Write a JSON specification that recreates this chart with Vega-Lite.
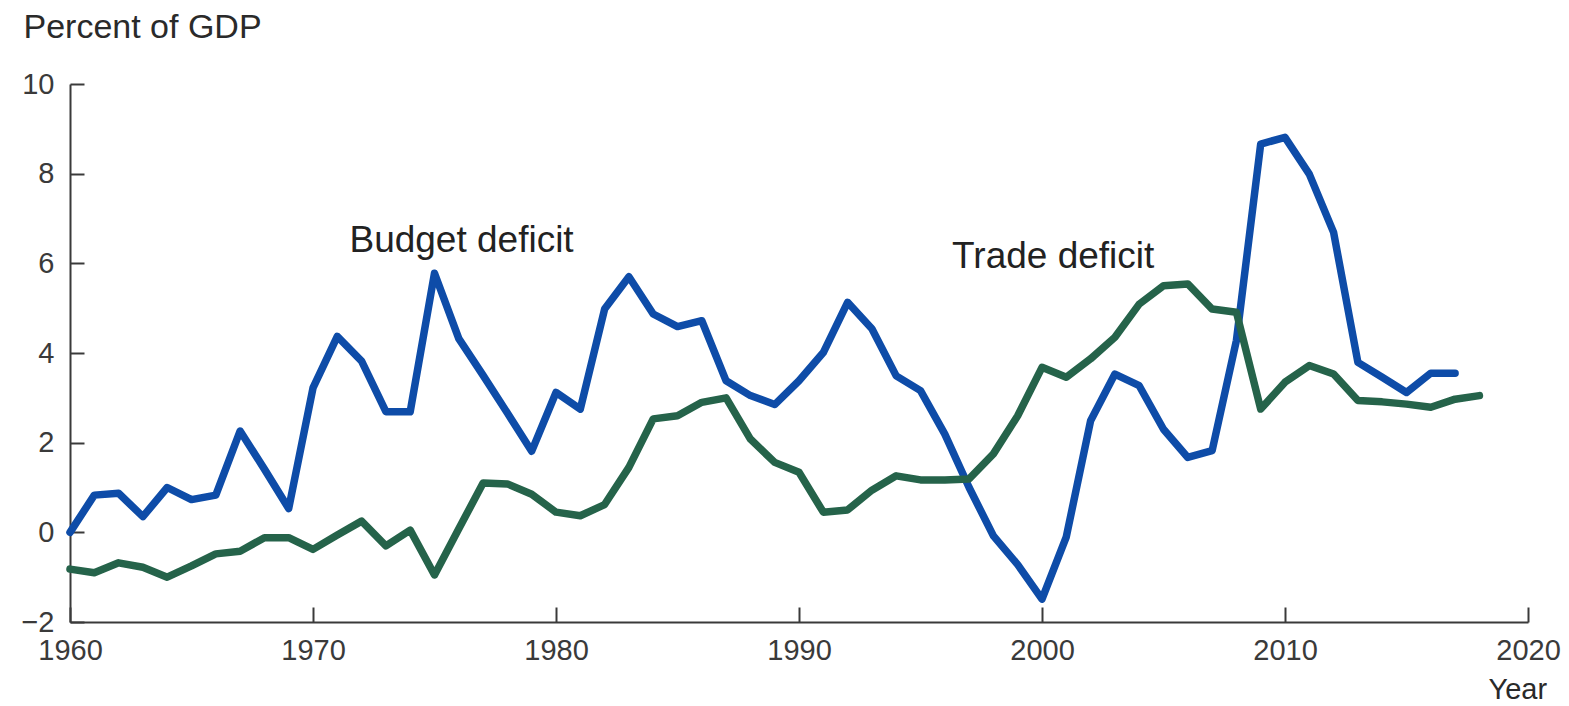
{
  "$schema": "https://vega.github.io/schema/vega-lite/v6.json",
  "autosize": "none",
  "width": 1458,
  "height": 538,
  "padding": {"left": 70, "top": 84, "right": 41, "bottom": 84},
  "background": "white",
  "config": {
    "font": "Liberation Sans",
    "view": {"stroke": null},
    "axis": {
      "domainColor": "#3a3a3a",
      "domainWidth": 2,
      "tickColor": "#3a3a3a",
      "tickWidth": 2,
      "labelColor": "#3a3a3a",
      "titleColor": "#2a2a2a",
      "grid": false,
      "labelFlush": false,
      "labelOverlap": false,
      "titleFontWeight": "normal",
      "labelFont": "Liberation Sans",
      "titleFont": "Liberation Sans"
    }
  },
  "datasets": {
    "series": [
      {"year": 1960, "series": "Budget deficit", "value": 0.0},
      {"year": 1961, "series": "Budget deficit", "value": 0.83},
      {"year": 1962, "series": "Budget deficit", "value": 0.87},
      {"year": 1963, "series": "Budget deficit", "value": 0.35},
      {"year": 1964, "series": "Budget deficit", "value": 1.0},
      {"year": 1965, "series": "Budget deficit", "value": 0.73},
      {"year": 1966, "series": "Budget deficit", "value": 0.83},
      {"year": 1967, "series": "Budget deficit", "value": 2.26},
      {"year": 1968, "series": "Budget deficit", "value": 1.41},
      {"year": 1969, "series": "Budget deficit", "value": 0.53},
      {"year": 1970, "series": "Budget deficit", "value": 3.22},
      {"year": 1971, "series": "Budget deficit", "value": 4.37},
      {"year": 1972, "series": "Budget deficit", "value": 3.82},
      {"year": 1973, "series": "Budget deficit", "value": 2.69},
      {"year": 1974, "series": "Budget deficit", "value": 2.69},
      {"year": 1975, "series": "Budget deficit", "value": 5.78},
      {"year": 1976, "series": "Budget deficit", "value": 4.32},
      {"year": 1977, "series": "Budget deficit", "value": 3.5},
      {"year": 1978, "series": "Budget deficit", "value": 2.66},
      {"year": 1979, "series": "Budget deficit", "value": 1.81},
      {"year": 1980, "series": "Budget deficit", "value": 3.12},
      {"year": 1981, "series": "Budget deficit", "value": 2.75},
      {"year": 1982, "series": "Budget deficit", "value": 4.98},
      {"year": 1983, "series": "Budget deficit", "value": 5.7},
      {"year": 1984, "series": "Budget deficit", "value": 4.87},
      {"year": 1985, "series": "Budget deficit", "value": 4.59},
      {"year": 1986, "series": "Budget deficit", "value": 4.72},
      {"year": 1987, "series": "Budget deficit", "value": 3.38},
      {"year": 1988, "series": "Budget deficit", "value": 3.05},
      {"year": 1989, "series": "Budget deficit", "value": 2.85},
      {"year": 1990, "series": "Budget deficit", "value": 3.38},
      {"year": 1991, "series": "Budget deficit", "value": 4.01},
      {"year": 1992, "series": "Budget deficit", "value": 5.13},
      {"year": 1993, "series": "Budget deficit", "value": 4.54},
      {"year": 1994, "series": "Budget deficit", "value": 3.49},
      {"year": 1995, "series": "Budget deficit", "value": 3.16},
      {"year": 1996, "series": "Budget deficit", "value": 2.19},
      {"year": 1997, "series": "Budget deficit", "value": 1.0},
      {"year": 1998, "series": "Budget deficit", "value": -0.08},
      {"year": 1999, "series": "Budget deficit", "value": -0.72},
      {"year": 2000, "series": "Budget deficit", "value": -1.49},
      {"year": 2001, "series": "Budget deficit", "value": -0.1},
      {"year": 2002, "series": "Budget deficit", "value": 2.49},
      {"year": 2003, "series": "Budget deficit", "value": 3.53},
      {"year": 2004, "series": "Budget deficit", "value": 3.27},
      {"year": 2005, "series": "Budget deficit", "value": 2.3},
      {"year": 2006, "series": "Budget deficit", "value": 1.67},
      {"year": 2007, "series": "Budget deficit", "value": 1.82},
      {"year": 2008, "series": "Budget deficit", "value": 4.28},
      {"year": 2009, "series": "Budget deficit", "value": 8.66},
      {"year": 2010, "series": "Budget deficit", "value": 8.81},
      {"year": 2011, "series": "Budget deficit", "value": 7.99},
      {"year": 2012, "series": "Budget deficit", "value": 6.69},
      {"year": 2013, "series": "Budget deficit", "value": 3.79},
      {"year": 2014, "series": "Budget deficit", "value": 3.46},
      {"year": 2015, "series": "Budget deficit", "value": 3.12},
      {"year": 2016, "series": "Budget deficit", "value": 3.55},
      {"year": 2017, "series": "Budget deficit", "value": 3.55},
      {"year": 1960, "series": "Trade deficit", "value": -0.82},
      {"year": 1961, "series": "Trade deficit", "value": -0.9},
      {"year": 1962, "series": "Trade deficit", "value": -0.68},
      {"year": 1963, "series": "Trade deficit", "value": -0.78},
      {"year": 1964, "series": "Trade deficit", "value": -1.0},
      {"year": 1965, "series": "Trade deficit", "value": -0.75},
      {"year": 1966, "series": "Trade deficit", "value": -0.48},
      {"year": 1967, "series": "Trade deficit", "value": -0.42},
      {"year": 1968, "series": "Trade deficit", "value": -0.12},
      {"year": 1969, "series": "Trade deficit", "value": -0.12},
      {"year": 1970, "series": "Trade deficit", "value": -0.38},
      {"year": 1971, "series": "Trade deficit", "value": -0.06},
      {"year": 1972, "series": "Trade deficit", "value": 0.25},
      {"year": 1973, "series": "Trade deficit", "value": -0.3},
      {"year": 1974, "series": "Trade deficit", "value": 0.05},
      {"year": 1975, "series": "Trade deficit", "value": -0.95},
      {"year": 1976, "series": "Trade deficit", "value": 0.08},
      {"year": 1977, "series": "Trade deficit", "value": 1.1},
      {"year": 1978, "series": "Trade deficit", "value": 1.08},
      {"year": 1979, "series": "Trade deficit", "value": 0.85},
      {"year": 1980, "series": "Trade deficit", "value": 0.45},
      {"year": 1981, "series": "Trade deficit", "value": 0.37},
      {"year": 1982, "series": "Trade deficit", "value": 0.62},
      {"year": 1983, "series": "Trade deficit", "value": 1.45},
      {"year": 1984, "series": "Trade deficit", "value": 2.53},
      {"year": 1985, "series": "Trade deficit", "value": 2.6},
      {"year": 1986, "series": "Trade deficit", "value": 2.9},
      {"year": 1987, "series": "Trade deficit", "value": 3.0},
      {"year": 1988, "series": "Trade deficit", "value": 2.08},
      {"year": 1989, "series": "Trade deficit", "value": 1.56},
      {"year": 1990, "series": "Trade deficit", "value": 1.34},
      {"year": 1991, "series": "Trade deficit", "value": 0.45},
      {"year": 1992, "series": "Trade deficit", "value": 0.5},
      {"year": 1993, "series": "Trade deficit", "value": 0.94},
      {"year": 1994, "series": "Trade deficit", "value": 1.26},
      {"year": 1995, "series": "Trade deficit", "value": 1.17},
      {"year": 1996, "series": "Trade deficit", "value": 1.17},
      {"year": 1997, "series": "Trade deficit", "value": 1.19},
      {"year": 1998, "series": "Trade deficit", "value": 1.75},
      {"year": 1999, "series": "Trade deficit", "value": 2.6},
      {"year": 2000, "series": "Trade deficit", "value": 3.68},
      {"year": 2001, "series": "Trade deficit", "value": 3.46},
      {"year": 2002, "series": "Trade deficit", "value": 3.87},
      {"year": 2003, "series": "Trade deficit", "value": 4.35},
      {"year": 2004, "series": "Trade deficit", "value": 5.09},
      {"year": 2005, "series": "Trade deficit", "value": 5.5},
      {"year": 2006, "series": "Trade deficit", "value": 5.54},
      {"year": 2007, "series": "Trade deficit", "value": 4.98},
      {"year": 2008, "series": "Trade deficit", "value": 4.91},
      {"year": 2009, "series": "Trade deficit", "value": 2.75},
      {"year": 2010, "series": "Trade deficit", "value": 3.35},
      {"year": 2011, "series": "Trade deficit", "value": 3.72},
      {"year": 2012, "series": "Trade deficit", "value": 3.53},
      {"year": 2013, "series": "Trade deficit", "value": 2.94},
      {"year": 2014, "series": "Trade deficit", "value": 2.91},
      {"year": 2015, "series": "Trade deficit", "value": 2.86},
      {"year": 2016, "series": "Trade deficit", "value": 2.79},
      {"year": 2017, "series": "Trade deficit", "value": 2.97},
      {"year": 2018, "series": "Trade deficit", "value": 3.05}
    ],
    "labels": [
      {"year": 1971.5, "value": 6.25, "text": "Budget deficit"},
      {"year": 1996.3, "value": 5.89, "text": "Trade deficit"}
    ]
  },
  "layer": [
    {
      "mark": {"type": "rule", "color": "#333333", "strokeWidth": 2, "strokeDash": [12, 6]},
      "encoding": {
        "x": {"datum": 1960.6, "type": "quantitative", "scale": {"domain": [1960, 2020], "nice": false, "zero": false}},
        "x2": {"datum": 2018},
        "y": {"datum": 0, "type": "quantitative", "scale": {"domain": [-2, 10], "nice": false, "zero": false}}
      }
    },
    {
      "data": {"name": "series"},
      "mark": {"type": "line", "strokeWidth": 7.5, "strokeJoin": "round", "strokeCap": "round"},
      "encoding": {
        "x": {
          "field": "year", "type": "quantitative",
          "scale": {"domain": [1960, 2020], "nice": false, "zero": false},
          "axis": {
            "values": [1960, 1970, 1980, 1990, 2000, 2010, 2020],
            "format": "d",
            "tickSize": -15,
            "labelFontSize": 29,
            "labelPadding": 29,
            "labelFlush": false,
            "title": "Year",
            "titleFontSize": 29,
            "titleAlign": "left",
            "titleBaseline": "alphabetic",
            "titleAnchor": "start",
            "titleX": 1418,
            "titleY": 76
          }
        },
        "y": {
          "field": "value", "type": "quantitative",
          "scale": {"domain": [-2, 10], "nice": false, "zero": false},
          "axis": {
            "values": [-2, 0, 2, 4, 6, 8, 10],
            "labelExpr": "datum.value < 0 ? '\u2212' + abs(datum.value) : datum.label",
            "tickSize": -14,
            "labelFontSize": 29,
            "labelPadding": 30,
            "labelFlush": false,
            "title": "Percent of GDP",
            "titleFontSize": 34,
            "titleAngle": 0,
            "titleAlign": "left",
            "titleBaseline": "alphabetic",
            "titleAnchor": "start",
            "titleX": -47,
            "titleY": -47
          }
        },
        "color": {
          "field": "series", "type": "nominal",
          "scale": {"domain": ["Budget deficit", "Trade deficit"], "range": ["#0e4ca8", "#25634a"]},
          "legend": null
        }
      }
    },
    {
      "data": {"name": "labels"},
      "mark": {"type": "text", "align": "left", "baseline": "alphabetic", "fontSize": 37, "color": "#222222", "font": "Liberation Sans"},
      "encoding": {
        "x": {"field": "year", "type": "quantitative"},
        "y": {"field": "value", "type": "quantitative"},
        "text": {"field": "text"}
      }
    }
  ]
}
